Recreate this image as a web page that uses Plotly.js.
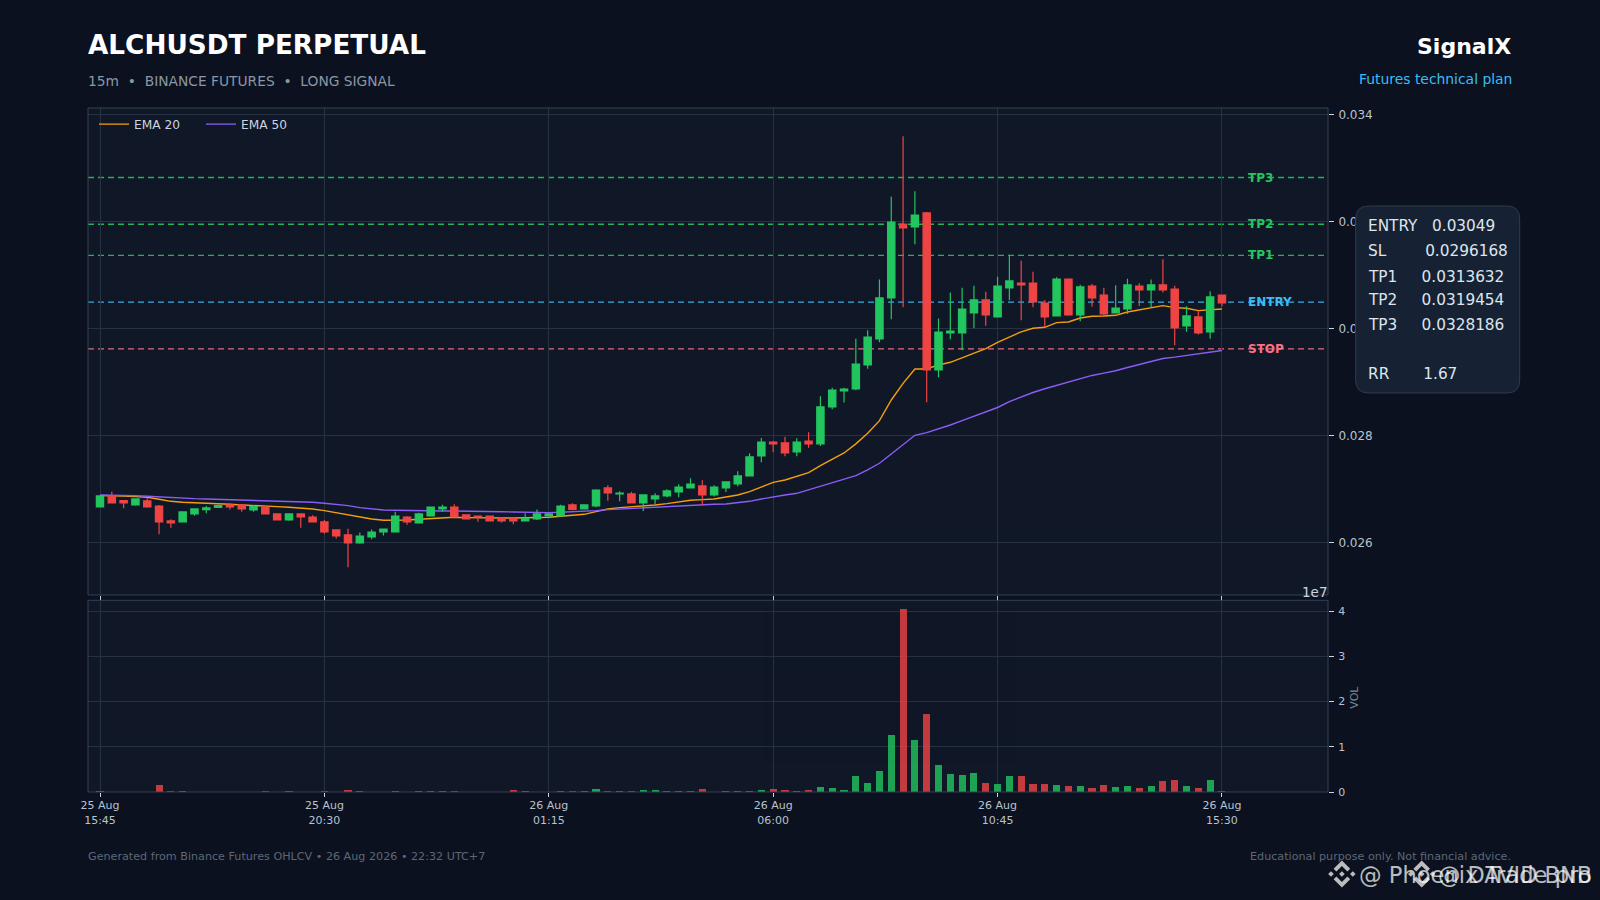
<!DOCTYPE html>
<html>
<head>
<meta charset="utf-8">
<title>ALCHUSDT PERPETUAL</title>
<script src="https://cdn.plot.ly/plotly-3.0.1.min.js"></script>
<style>html,body{margin:0;padding:0;background:#0b111e;}#chart{width:1600px;height:900px;}</style>
</head>
<body>
<div id="chart"></div>
<script>
const opens = [.02666,.026866,.026779,.026698,.026773,.026679,.026399,.02638,.02653,.026611,.026654,.026698,.026698,.026604,.02666,.02653,.026417,.02653,.026473,.02638,.026231,.026137,.025988,.0261,.026193,.026193,.026473,.026361,.026492,.026623,.02666,.026511,.026492,.026492,.026449,.026449,.026399,.026436,.026492,.026492,.026698,.026623,.026679,.027016,.026904,.026904,.026735,.02681,.026866,.026941,.027016,.027053,.026885,.027016,.02709,.02724,.027614,.027875,.027857,.027688,.027894,.027838,.02853,.028829,.028866,.029315,.029801,.030567,.03195,.031894,.032156,.029221,.029913,.029913,.030287,.03053,.030212,.030754,.030847,.030847,.030473,.030231,.030922,.030249,.030791,.030623,.030287,.030361,.030791,.030716,.03081,.030735,.030044,.030212,.029931,.030623];
const highs = [.02688,.026947,.026791,.026822,.026822,.026698,.02643,.026579,.026623,.026679,.026704,.026729,.026716,.026692,.026698,.026542,.026542,.02653,.026505,.026417,.026231,.026255,.026181,.026237,.026255,.026573,.026492,.026554,.026667,.026704,.02671,.026511,.026492,.026492,.026449,.026449,.026542,.026611,.02653,.026704,.026729,.02671,.026991,.027066,.026953,.026947,.026897,.026916,.026991,.027084,.027196,.027159,.027066,.027128,.027327,.027664,.02795,.027894,.027975,.027944,.028056,.028729,.028891,.028891,.029807,.029963,.03091,.032461,.033588,.032561,.032174,.030181,.030667,.03076,.030797,.030685,.030966,.031377,.031265,.031059,.03053,.030953,.030922,.030816,.030829,.03076,.030804,.030928,.030841,.03091,.03129,.030797,.030411,.030318,.030692,.030623];
const lows = [.02666,.026735,.026635,.026685,.026648,.02615,.026274,.02638,.026498,.026542,.026648,.026611,.026573,.026573,.02653,.026411,.026405,.026274,.026374,.026162,.026069,.025533,.025975,.026056,.026125,.026193,.02633,.026349,.026492,.026573,.026473,.02643,.026386,.026399,.026368,.026337,.026399,.026418,.026492,.02648,.026598,.026617,.026654,.026779,.026766,.026735,.026586,.02671,.026841,.026841,.027016,.026698,.026854,.026941,.027047,.02724,.027495,.027682,.027608,.027608,.027769,.027801,.028486,.028611,.028841,.029246,.029738,.030168,.030392,.03157,.028617,.029084,.029794,.029589,.03,.03005,.030212,.030523,.03015,.030392,.030019,.030231,.030237,.030131,.030405,.030231,.030287,.030268,.030417,.030392,.030667,.029682,.029938,.029882,.029807,.030411];
const closes = [.026866,.026735,.026735,.02681,.02666,.02638,.026361,.026567,.026623,.026642,.026685,.02666,.026623,.026667,.02653,.026417,.02653,.026473,.02638,.026193,.026118,.025988,.026118,.026193,.026249,.026492,.02638,.02653,.02666,.02666,.026473,.026436,.026473,.026399,.026399,.026399,.026449,.02653,.02653,.026679,.026617,.026698,.026978,.026922,.026922,.026735,.026885,.026866,.02696,.027034,.02709,.026885,.027034,.027128,.02724,.027595,.027875,.027838,.02767,.027875,.027838,.02853,.028847,.028866,.029333,.029838,.030567,.031987,.031875,.032118,.029221,.029931,.02995,.030361,.03053,.030249,.030791,.030885,.03081,.030492,.030212,.030922,.030249,.030773,.030567,.030268,.03038,.03081,.030716,.03081,.030716,.030006,.030231,.029913,.030586,.030473];
const ema20 = [.026872,.026872,.026866,.026854,.026841,.026804,.026766,.026748,.026735,.026729,.026716,.02671,.026698,.026692,.026679,.026667,.026654,.026642,.026623,.026592,.026554,.026505,.026467,.026436,.026411,.026411,.026417,.02643,.026442,.026461,.026467,.026461,.026455,.026455,.026455,.026455,.026455,.026461,.026467,.026486,.026505,.026523,.026573,.026623,.026648,.02666,.026679,.026698,.026723,.026754,.026785,.026797,.02681,.026847,.026885,.026947,.02704,.027121,.027165,.027227,.027302,.027433,.027555,.027670,.027840,.028040,.028274,.02866,.028972,.02924,.02924,.029315,.029365,.029452,.029545,.02962,.029738,.029838,.029935,.03,.030019,.030106,.030118,.030193,.030224,.030231,.030243,.030305,.030349,.030392,.030424,.030386,.030374,.03033,.030349,.030361];
const ema50 = [.026885,.026885,.026878,.026872,.02686,.026847,.026829,.026822,.026816,.02681,.026804,.026797,.026791,.026785,.026779,.026773,.02676,.026754,.026748,.026729,.02671,.026685,.026648,.026623,.026604,.026598,.026592,.026589,.026586,.026586,.026586,.026579,.026579,.026573,.02657,.026567,.026561,.026554,.026554,.026561,.026567,.026579,.026592,.026611,.026623,.02663,.026636,.026648,.02666,.026673,.026685,.026698,.02671,.026716,.026735,.026766,.02681,.026854,.026885,.026916,.02698,.027045,.027105,.027178,.027246,.027352,.027477,.027651,.027826,.028,.02805,.028118,.028193,.028274,.028355,.02843,.02852,.02863,.02872,.0288,.02887,.028932,.028988,.029056,.029119,.029162,.029206,.029268,.029324,.02938,.029436,.029461,.029492,.029511,.029548,.029586];
const volumes = [.02,.004,.004,.004,.004,.155,.02,.02,.004,.004,.004,.004,.004,.004,.02,.004,.02,.004,.004,.02,.004,.045,.02,.004,.004,.02,.004,.02,.02,.02,.02,.004,.004,.004,.004,.04,.02,.004,.004,.03,.03,.03,.075,.03,.03,.03,.05,.05,.03,.03,.03,.075,.005,.03,.03,.03,.055,.075,.05,.02,.045,.11,.09,.045,.355,.2,.465,1.267,4.05,1.155,1.733,.6,.4,.378,.422,.2,.178,.355,.355,.178,.178,.155,.133,.133,.09,.155,.11,.133,.09,.133,.245,.267,.133,.09,.267,.02];
const tickIndex = [0,19,38,57,76,95];
const tickLabels = ['25 Aug<br>15:45','25 Aug<br>20:30','26 Aug<br>01:15','26 Aug<br>06:00','26 Aug<br>10:45','26 Aug<br>15:30'];
const priceTicks = [0.026,0.028,0.030,0.032,0.034];
const priceTickLabels = ['0.026','0.028','0.030','0.032','0.034'];
const volTicks = [0,1e7,2e7,3e7,4e7];
const volTickLabels = ['0','1','2','3','4'];
const levelNames = ['TP3','TP2','TP1','ENTRY','STOP'];
const levelValues = [0.0328186,0.0319454,0.0313632,0.03049,0.0296168];
const levelColors = ['#22c55e','#22c55e','#22c55e','#38bdf8','#fb7185'];
const infoLines = ['ENTRY   0.03049','SL        0.0296168','TP1     0.0313632','TP2     0.0319454','TP3     0.0328186','RR       1.67'];

const UP='#22c55e', DOWN='#ef4444';
const idx = opens.map((_,i)=>i);
const L=88.3,R=1328.3,T=108,B=792;
const px=x=>(x-L)/(R-L), py=y=>(B-y)/(B-T);
const P=(x,y)=>px(x).toFixed(5)+','+py(y).toFixed(5);

function rrect(x0,y0,x1,y1,r){
  return 'M'+P(x0+r,y0)+' L'+P(x1-r,y0)+' Q'+P(x1,y0)+' '+P(x1,y0+r)+' L'+P(x1,y1-r)+' Q'+P(x1,y1)+' '+P(x1-r,y1)+' L'+P(x0+r,y1)+' Q'+P(x0,y1)+' '+P(x0,y1-r)+' L'+P(x0,y0+r)+' Q'+P(x0,y0)+' '+P(x0+r,y0)+' Z';
}
function poly(cx,cy,pts){return 'M'+pts.map(p=>P(cx+p[0],cy+p[1])).join(' L')+' Z';}
function logo(cx,cy,color){
  const paths=[
    poly(cx,cy,[[0,-13.6],[8.3,-5.3],[5.5,-2.6],[0,-8.1],[-5.5,-2.6],[-8.3,-5.3]]),
    poly(cx,cy,[[0,13.6],[8.3,5.3],[5.5,2.6],[0,8.1],[-5.5,2.6],[-8.3,5.3]]),
    poly(cx,cy,[[0,-2.8],[2.8,0],[0,2.8],[-2.8,0]]),
    poly(cx,cy,[[-10.9,-2.8],[-8.1,0],[-10.9,2.8],[-13.7,0]]),
    poly(cx,cy,[[10.9,-2.8],[13.7,0],[10.9,2.8],[8.1,0]])
  ];
  return paths.map(d=>({type:'path',xref:'paper',yref:'paper',path:d,fillcolor:color,line:{width:0},layer:'above'}));
}

const traces=[
 {type:'scatter',mode:'lines',name:'EMA 20',x:idx,y:ema20,line:{color:'#f59e0b',width:1.4},xaxis:'x',yaxis:'y',zorder:-1},
 {type:'scatter',mode:'lines',name:'EMA 50',x:idx,y:ema50,line:{color:'#8b5cf6',width:1.4},xaxis:'x',yaxis:'y',zorder:-1},
 {type:'candlestick',x:idx,open:opens,high:highs,low:lows,close:closes,xaxis:'x',yaxis:'y',showlegend:false,whiskerwidth:0,
  increasing:{line:{color:UP,width:1.2},fillcolor:UP},decreasing:{line:{color:DOWN,width:1.2},fillcolor:DOWN},hoverinfo:'skip'},
 {type:'bar',x:idx,y:volumes.map(v=>v*1e7),width:0.6,xaxis:'x2',yaxis:'y2',showlegend:false,opacity:0.8,
  marker:{color:idx.map(i=>closes[i]>=opens[i]?UP:DOWN),line:{width:0}},hoverinfo:'skip'}
];

const ann=(text,x,y,size,color,opt)=>Object.assign({text,xref:'paper',yref:'paper',x:px(x),y:py(y),xanchor:'left',yanchor:'middle',showarrow:false,
  font:{family:'DejaVu Sans',size,color}},opt||{});

const annotations=[
 ann('<b>ALCHUSDT PERPETUAL</b>',86,44.5,26.3,'#ffffff'),
 ann('15m  •  BINANCE FUTURES  •  LONG SIGNAL',86,81,13.8,'#8b97a6'),
 ann('<b>SignalX</b>',1513,47,22,'#ffffff',{xanchor:'right'}),
 ann('Futures technical plan',1514.5,78.5,13.9,'#38bdf8',{xanchor:'right'}),
 ann('Generated from Binance Futures OHLCV • 26 Aug 2026 • 22:32 UTC+7',86,856,11.16,'#5c6878'),
 ann('Educational purpose only. Not financial advice.',1513.5,856,11.16,'#5c6878',{xanchor:'right'}),
 ann('@ Phoenix Trade pro',1594,875,22.6,'rgba(255,255,255,0.72)',{xanchor:'right'}),
 ann('@ DAVID BNB',1594,875,22.4,'rgba(255,255,255,0.72)',{xanchor:'right'}),
 ann('1e7',1329.5,591.5,13.5,'#cbd5e1',{xanchor:'right'}),
 ann('VOL',1354,697,11,'#7b8796',{xanchor:'center',textangle:-90})
];
levelNames.forEach((n,i)=>annotations.push({text:'<b>'+n+'</b>',xref:'x',yref:'y',x:97.07,y:levelValues[i],xanchor:'left',yanchor:'middle',yshift:0,showarrow:false,
  font:{family:'DejaVu Sans',size:12,color:levelColors[i]}}));
const infoY=[226,251,276.5,300,325,374];
infoLines.forEach((t,i)=>annotations.push(ann(t,1366.5,infoY[i],15.3,'#dde5ee')));

const shapes=[];
levelValues.forEach((v,i)=>shapes.push({type:'line',xref:'paper',yref:'y',x0:0,x1:1,y0:v,y1:v,layer:'below',
  line:{color:levelColors[i],width:1.3,dash:'6px,4px'},opacity:0.9}));
shapes.push({type:'rect',xref:'paper',yref:'paper',x0:0,x1:1,y0:py(595),y1:1,line:{color:'#334155',width:1},layer:'above'});
shapes.push({type:'rect',xref:'paper',yref:'paper',x0:0,x1:1,y0:0,y1:py(600.3),line:{color:'#334155',width:1},layer:'above'});
shapes.push({type:'path',xref:'paper',yref:'paper',path:rrect(1356,206,1520,393,13),fillcolor:'#162233',line:{color:'#2f3c4e',width:1},layer:'above'});
shapes.push(...logo(1342.2,874,'rgba(255,255,255,0.72)'));
shapes.push(...logo(1422,874,'rgba(255,255,255,0.72)'));

const axisBase={showline:true,mirror:true,linecolor:'#334155',linewidth:1,gridcolor:'#263141',gridwidth:1,zeroline:false,
  ticks:'outside',ticklen:4,tickwidth:1,tickcolor:'#cbd5e1',tickfont:{family:'DejaVu Sans',size:11,color:'#b8c2d0'}};
const xRange=[-1.016,103.98];
const layout={
 width:1600,height:900,paper_bgcolor:'#0b111e',plot_bgcolor:'#101827',
 margin:{l:L,r:1600-R,t:T,b:900-B,pad:0},hovermode:false,dragmode:false,
 boxgap:0.38,boxgroupgap:0,bargap:0,
 showlegend:true,
 legend:{orientation:'h',x:6/(R-L),y:1-1.6/(B-T),xanchor:'left',yanchor:'top',bgcolor:'rgba(0,0,0,0)',font:{family:'DejaVu Sans',size:12.2,color:'#cbd5e1'},itemwidth:30,entrywidth:62,entrywidthmode:'pixels'},
 xaxis:Object.assign({},axisBase,{domain:[0,1],anchor:'y',range:xRange,type:'linear',tickmode:'array',tickvals:tickIndex,ticktext:tickLabels,showticklabels:false,rangeslider:{visible:false}}),
 yaxis:Object.assign({},axisBase,{domain:[(B-595)/(B-T),1],anchor:'x',side:'right',range:[0.025015,0.034118],tickmode:'array',tickvals:priceTicks,ticktext:priceTickLabels,ticklen:5,ticklabelstandoff:2,tickfont:{family:'DejaVu Sans',size:12,color:'#b8c2d0'}}),
 xaxis2:Object.assign({},axisBase,{domain:[0,1],anchor:'y2',range:xRange,type:'linear',tickmode:'array',tickvals:tickIndex,ticktext:tickLabels,ticklabelstandoff:-1}),
 yaxis2:Object.assign({},axisBase,{domain:[0,(B-600.3)/(B-T)],anchor:'x2',side:'right',range:[0,4.24e7],tickmode:'array',tickvals:volTicks,ticktext:volTickLabels,ticklen:5,ticklabelstandoff:2}),
 shapes,annotations
};
Plotly.newPlot('chart',traces,layout,{displayModeBar:false,staticPlot:true});
</script>
</body>
</html>
